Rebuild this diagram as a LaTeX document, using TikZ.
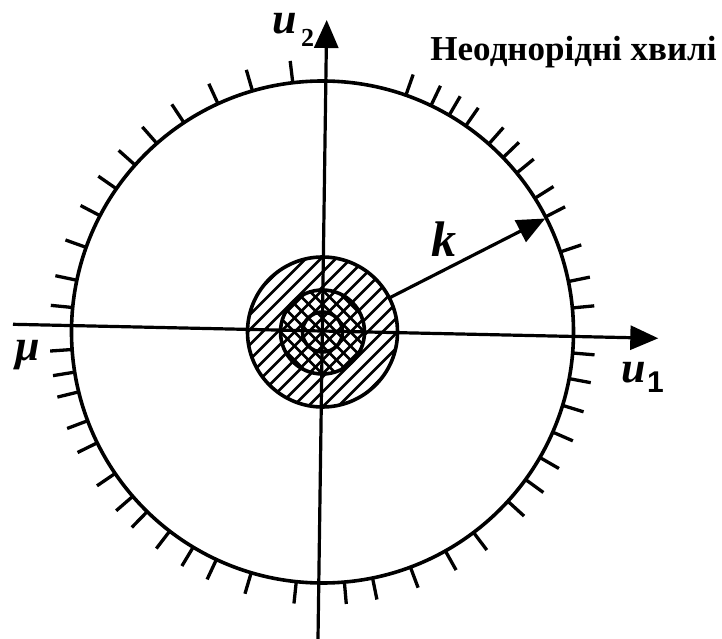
\documentclass[tikz,border=0pt]{standalone}
\usepackage{fontspec}
\setmainfont{Liberation Serif}
\setsansfont{Liberation Sans}
\usetikzlibrary{arrows.meta}
\begin{document}
\begin{tikzpicture}[x=1pt,y=1pt,
  ring/.style={line width=3.6pt},
  hatch/.style={line width=2.7pt},
  tickmark/.style={line width=3.3pt},
  axis/.style={line width=3.2pt,-{Triangle[length=28pt,width=24pt]}},
  lbl/.style={font=\fontsize{44}{44}\selectfont\bfseries\itshape,inner sep=0pt},
  sub/.style={inner sep=0pt}]
\useasboundingbox (-322.5,-307) rectangle (399.5,332);
\coordinate (O) at (0,0);
% hatched annulus
\begin{scope}
  \clip (O) circle (75);
  \foreach \c in {-165,-150,...,165} \draw[hatch] (\c-100,-100) -- (\c+100,100);
\end{scope}
\fill[white] (O) circle (42);
\begin{scope}
  \clip (O) circle (42);
  \foreach \c in {-84,-70,...,84} {
    \draw[hatch] (\c-60,-60) -- (\c+60,60);
    \draw[hatch] (\c+60,-60) -- (\c-60,60);
  }
\end{scope}
\draw[ring] (O) circle (20);
\draw[ring] (O) circle (42);
\draw[ring] (O) circle (75);
\draw[ring] (O) circle (251);
% ticks
\foreach \a in {96.8,106.2,114.6,123.5,131.3,138.3,145.2,152.4,160.3,168.1,174.4,184,189.2,193.8,200.7,206.2,214.3,220.9,225.7,232.5,239,245,253.5,264,275,281.5,290.5,299.3,307,317.6,324,330,336.5,343,349.3,355.2,5.5,11.6,18.6,27.3,32.2,39.3,44,48.5,55.2,59.7,64.4,70.6}
  \draw[tickmark] (\a:251) -- (\a:273);
% axes
\coordinate (Hl) at (-309.5,7.7);
\coordinate (Hr) at (335.8,-6.3);
\draw[axis] (Hl) -- (Hr);
\coordinate (Vb) at (-4.5,-307);
\coordinate (Vt) at (4.2,312);
\draw[axis] (Vb) -- (Vt);
\coordinate (K0) at (27:75);
\coordinate (K1) at (27:250);
\draw[axis] (K0) -- (K1);
% labels
\node[lbl] (u1) at (310.8,-40.5) {u};
\node[sub,font=\fontsize{30}{30}\selectfont\sffamily\bfseries] (s1) at (333,-50.3) {1};
\node[lbl] (u2) at (-38,308) {u};
\node[sub,font=\fontsize{26}{26}\selectfont\bfseries] (s2) at (-15,294) {2};
\node[lbl] (mu) at (-295,-23) {μ};
\node[lbl,font=\fontsize{50}{50}\selectfont\bfseries\itshape] (k) at (121.5,93) {k};
\node[font=\fontsize{35}{35}\selectfont\bfseries,inner sep=0pt] (title) at (251,280) {Неоднорідні хвилі};
\end{tikzpicture}
\end{document}
